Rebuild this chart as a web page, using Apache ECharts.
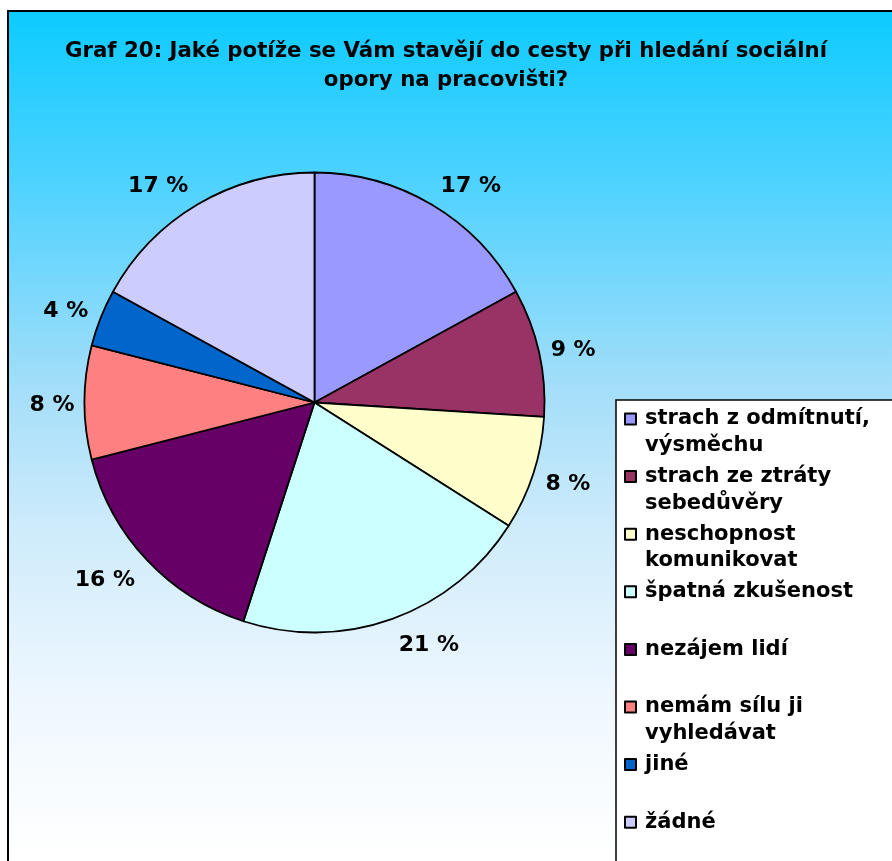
<!DOCTYPE html>
<html>
<head>
<meta charset="utf-8">
<script src="https://cdn.jsdelivr.net/npm/echarts@6/dist/echarts.min.js"></script>
<style>
  html, body { margin: 0; padding: 0; background: #ffffff; }
  #chart { width: 892px; height: 861px; }
</style>
</head>
<body>
<div id="chart"></div>
<script>
// Survey answers (legend labels, wrapped as they appear in the legend box)
const categories = [
  'strach z odmítnutí,\nvýsměchu',
  'strach ze ztráty\nsebedůvěry',
  'neschopnost\nkomunikovat',
  'špatná zkušenost',
  'nezájem lidí',
  'nemám sílu ji\nvyhledávat',
  'jiné',
  'žádné'
];
// Share of respondents, in percent
const shares = [17, 9, 8, 21, 16, 8, 4, 17];
const sliceColors = ['#9999FF', '#993366', '#FFFFCC', '#CCFFFF', '#660066', '#FF8080', '#0066CC', '#CCCCFF'];
const titleText = 'Graf 20: Jaké potíže se Vám stavějí do cesty při hledání sociální\nopory na pracovišti?';

const FONT = '"DejaVu Sans", Verdana, sans-serif';
const CX = 314.5, CY = 402.5, R = 230;
const LABEL_FONT = 22;
const LEGEND_LINE = 26.8;

// mid-angle of every slice (clockwise from 12 o'clock), used to place the percentage labels
const total = shares.reduce((a, b) => a + b, 0);
const midAngles = [];
let running = 0;
shares.forEach(v => {
  midAngles.push(2 * Math.PI * (running + v / 2) / total);
  running += v;
});
const clampUnit = t => Math.max(-1, Math.min(1, t * 4));

// Legend entries are laid out as three lines: an empty one, then the (up to two) text lines.
// The block is centred on the marker, so the marker ends up beside the first text line.
function legendText(name) {
  const lines = name.split('\n');
  while (lines.length < 2) lines.push('');
  return '\n' + lines.join('\n');
}

const chart = echarts.init(document.getElementById('chart'), null, { renderer: 'canvas' });

chart.setOption({
  animation: false,
  graphic: [
    {
      type: 'rect',
      z: -10,
      shape: { x: 8, y: 11, width: 900, height: 900 },
      style: {
        fill: new echarts.graphic.LinearGradient(0, 0, 0, 1, [
          { offset: 0, color: '#0CCBFF' },
          { offset: 0.19, color: '#4ED2FF' },
          { offset: 0.42, color: '#A4DEF9' },
          { offset: 0.57, color: '#CDEBFB' },
          { offset: 0.76, color: '#EEF7FE' },
          { offset: 0.94, color: '#FFFFFF' },
          { offset: 1, color: '#FFFFFF' }
        ]),
        stroke: '#000000',
        lineWidth: 2
      }
    },
    {
      type: 'rect',
      z: -5,
      shape: { x: 616, y: 400, width: 300, height: 500 },
      style: { fill: '#FFFFFF', stroke: '#000000', lineWidth: 1.5 }
    }
  ],
  title: {
    text: titleText,
    left: 'center',
    top: 36.5,
    padding: 0,
    textStyle: {
      fontFamily: FONT,
      fontWeight: 'bold',
      fontSize: 21.3,
      lineHeight: 29,
      color: '#000000',
      align: 'center'
    }
  },
  legend: {
    orient: 'vertical',
    left: 624,
    top: 419 - 1.5 * LEGEND_LINE,
    height: 760,
    padding: 0,
    itemGap: 57.6 - 3 * LEGEND_LINE,
    itemWidth: 11,
    itemHeight: 11,
    icon: 'rect',
    selectedMode: false,
    formatter: legendText,
    textStyle: {
      fontFamily: FONT,
      fontWeight: 'bold',
      fontSize: 21,
      lineHeight: LEGEND_LINE,
      color: '#000000',
      padding: [0, 0, 0, 4]
    },
    data: categories
  },
  series: [
    {
      type: 'pie',
      center: [CX, CY],
      radius: R,
      startAngle: 90,
      clockwise: true,
      avoidLabelOverlap: false,
      silent: true,
      data: categories.map((name, i) => ({
        name: name,
        value: shares[i],
        itemStyle: { color: sliceColors[i] }
      })),
      itemStyle: { borderColor: '#000000', borderWidth: 1.8 },
      label: {
        show: true,
        position: 'inside',
        formatter: '{c} %',
        fontFamily: FONT,
        fontWeight: 'bold',
        fontSize: LABEL_FONT,
        color: '#000000'
      },
      labelLine: { show: false },
      // labels sit just outside the rim along each slice's mid-angle, pushed sideways by half their width
      labelLayout: function (params) {
        const a = midAngles[params.dataIndex];
        const ux = Math.sin(a), uy = -Math.cos(a);
        const w = params.labelRect.width;
        const d = 240 + 9 * Math.abs(uy);
        return {
          x: CX + d * ux + clampUnit(ux) * w / 2,
          y: CY + 255 * uy + 3,
          align: 'center',
          verticalAlign: 'middle'
        };
      }
    }
  ]
});
</script>
</body>
</html>
